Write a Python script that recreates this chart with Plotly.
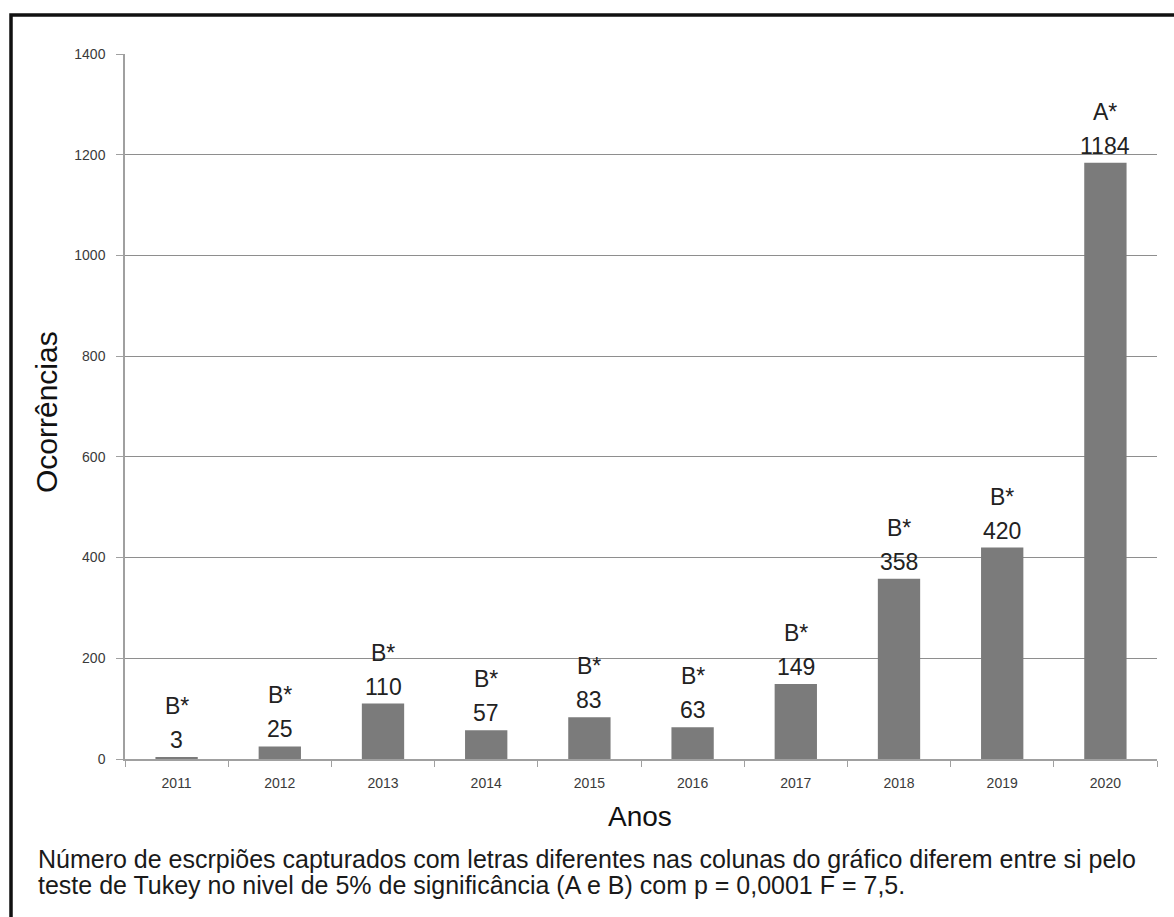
import plotly.graph_objects as go

# Annual occurrences of scorpions captured
anos = ["2011", "2012", "2013", "2014", "2015", "2016", "2017", "2018", "2019", "2020"]
ocorrencias = [3, 25, 110, 57, 83, 63, 149, 358, 420, 1184]
letras = ["B*", "B*", "B*", "B*", "B*", "B*", "B*", "B*", "B*", "A*"]
y_ticks = [0, 200, 400, 600, 800, 1000, 1200, 1400]

legenda = [
    "Número de escrpiões capturados com letras diferentes nas colunas do gráfico diferem entre si pelo",
    "teste de Tukey no nivel de 5% de significância (A e B) com p = 0,0001 F = 7,5.",
]

W, H = 1174, 917
L, R, T, B = 125, 17, 54, 158
PW, PH = W - L - R, H - T - B


def px_x(p):
    return (p - L) / PW


def px_y(p):
    return (H - B - p) / PH


FONT = "Liberation Sans, Arial, sans-serif"

fig = go.Figure()
fig.add_trace(go.Bar(
    x=anos, y=ocorrencias, width=0.41,
    marker=dict(color="#7b7b7b", line=dict(width=0)),
    hoverinfo="x+y",
))

annotations = []
# on a category axis, annotation x is the category's serial index
for i, (v, letra) in enumerate(zip(ocorrencias, letras)):
    annotations.append(dict(x=i, y=v, xref="x", yref="y", text=str(v),
                            showarrow=False, yanchor="middle", yshift=17,
                            font=dict(family=FONT, size=23, color="#222222")))
    annotations.append(dict(x=i, y=v, xref="x", yref="y", text=letra,
                            showarrow=False, yanchor="middle", yshift=51,
                            font=dict(family=FONT, size=23, color="#222222")))

annotations.append(dict(x=px_x(46), y=px_y(412), xref="paper", yref="paper",
                        text="Ocorrências", textangle=-90, showarrow=False,
                        xanchor="center", yanchor="middle",
                        font=dict(family=FONT, size=30, color="#111111")))
annotations.append(dict(x=px_x(640), y=px_y(817), xref="paper", yref="paper",
                        text="Anos", showarrow=False,
                        xanchor="center", yanchor="middle",
                        font=dict(family=FONT, size=28, color="#111111")))
for linha, yc in zip(legenda, [859, 885]):
    annotations.append(dict(x=px_x(36), y=px_y(yc), xref="paper", yref="paper",
                            text=linha, showarrow=False,
                            xanchor="left", yanchor="middle",
                            font=dict(family=FONT, size=25, color="#1a1a1a")))

# Thick frame around the figure (top and left edges)
xl, yt = px_x(11), px_y(15)
frame = dict(type="path", xref="paper", yref="paper",
             path=f"M {xl},{px_y(H + 20)} L {xl},{yt} L {px_x(W + 20)},{yt}",
             line=dict(color="#111111", width=3.5))

fig.update_layout(
    width=W, height=H,
    margin=dict(l=L, r=R, t=T, b=B),
    paper_bgcolor="white", plot_bgcolor="white",
    showlegend=False,
    annotations=annotations,
    shapes=[frame],
    font=dict(family=FONT),
)
fig.update_xaxes(
    type="category", range=[-0.5, len(anos) - 0.5],
    showline=True, linecolor="#a0a0a0", linewidth=1.5,
    ticks="outside", tickson="boundaries", ticklen=6, tickcolor="#a0a0a0",
    tickfont=dict(family=FONT, size=14, color="#3a3a3a"),
    ticklabelstandoff=10, showgrid=False, zeroline=False,
)
fig.update_yaxes(
    range=[0, 1400], tickvals=y_ticks, showline=True, linecolor="#a0a0a0",
    linewidth=1.5, ticks="outside", ticklen=7, tickcolor="#a0a0a0",
    tickfont=dict(family=FONT, size=14, color="#3a3a3a"),
    ticklabelstandoff=8, showgrid=True, gridcolor="#8e8e8e", gridwidth=1,
    zeroline=False,
)

fig.write_html("out.html")
